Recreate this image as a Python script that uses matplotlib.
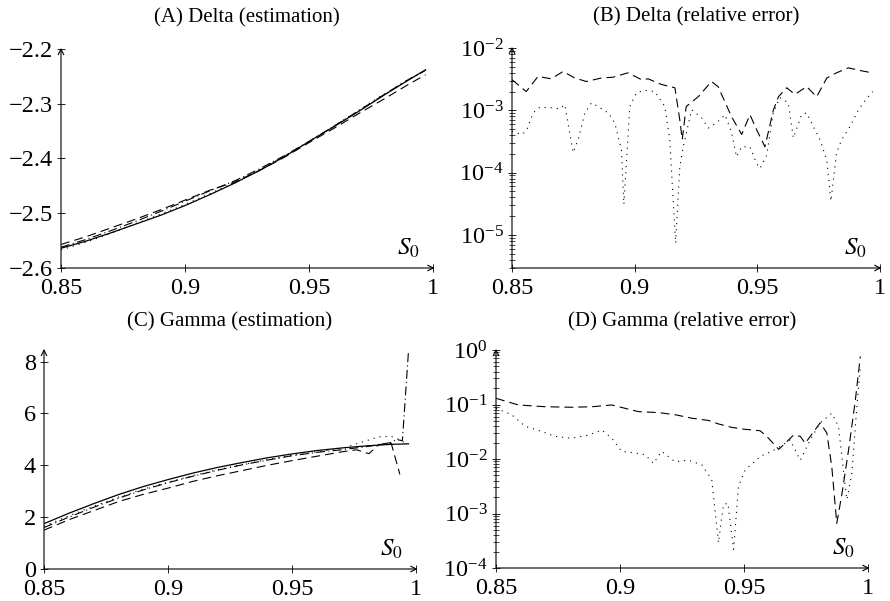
import matplotlib
matplotlib.use("Agg")
import matplotlib.pyplot as plt
from matplotlib.ticker import FixedLocator, FuncFormatter, LogLocator, NullFormatter

plt.rcParams['font.family'] = ['Liberation Serif', 'DejaVu Serif']
plt.rcParams['mathtext.fontset'] = 'stix'

# ---- (A) Delta estimation ----
xa = [0.85, 0.86, 0.87, 0.88, 0.89, 0.90, 0.91, 0.92, 0.93, 0.94,
      0.95, 0.96, 0.97, 0.98, 0.99, 0.997]
delta_exact = [-2.564, -2.551, -2.536, -2.520, -2.504, -2.486, -2.466, -2.445,
               -2.422, -2.397, -2.369, -2.342, -2.314, -2.285, -2.257, -2.238]
delta_dash = [-2.557, -2.543, -2.527, -2.511, -2.494, -2.476, -2.458, -2.443,
              -2.422, -2.398, -2.371, -2.345, -2.318, -2.292, -2.265, -2.247]
delta_dot = [-2.567, -2.553, -2.537, -2.519, -2.502, -2.484, -2.464, -2.444,
             -2.421, -2.396, -2.369, -2.341, -2.312, -2.283, -2.256, -2.240]
delta_dashdot = [-2.562, -2.548, -2.532, -2.515, -2.497, -2.478, -2.459, -2.441,
                 -2.419, -2.395, -2.369, -2.341, -2.313, -2.284, -2.256, -2.239]

# ---- (B) Delta relative error ----
xb_dash = [0.85, 0.8558, 0.8606, 0.866, 0.8708, 0.8756, 0.8803, 0.8864, 0.8912,
           0.8973, 0.9028, 0.9055, 0.9109, 0.9164, 0.9184, 0.9194, 0.921, 0.9259,
           0.9313, 0.934, 0.9395, 0.9436, 0.947, 0.9497, 0.9531, 0.9565, 0.9586,
           0.962, 0.9653, 0.9701, 0.9742, 0.9783, 0.9823, 0.9871, 0.9926, 0.9967]
errb_dash = [3.1e-3, 2.0e-3, 3.5e-3, 3.2e-3, 4.2e-3, 3.3e-3, 2.9e-3, 3.3e-3, 3.4e-3,
             4.0e-3, 3.1e-3, 3.2e-3, 2.6e-3, 2.3e-3, 7.0e-4, 3.4e-4, 1.15e-3, 1.65e-3,
             2.9e-3, 2.4e-3, 7.9e-4, 4.1e-4, 8.5e-4, 4.9e-4, 2.6e-4, 1.0e-3, 1.65e-3,
             2.3e-3, 1.8e-3, 2.4e-3, 1.65e-3, 3.3e-3, 4.0e-3, 4.8e-3, 4.3e-3, 4.0e-3]
xb_dot = [0.85, 0.8538, 0.8558, 0.8586, 0.8613, 0.866, 0.8694, 0.8715, 0.8735,
          0.8749, 0.877, 0.8797, 0.8824, 0.8851, 0.8892, 0.8919, 0.8946, 0.8956,
          0.8967, 0.898, 0.9007, 0.9041, 0.9082, 0.9123, 0.9143, 0.9167, 0.9184,
          0.9198, 0.9232, 0.9273, 0.93, 0.9334, 0.9368, 0.9395, 0.9415, 0.9436,
          0.947, 0.9497, 0.9511, 0.9538, 0.9565, 0.9592, 0.9626, 0.9647, 0.968,
          0.9701, 0.9728, 0.9755, 0.9783, 0.98, 0.9823, 0.9844, 0.9878, 0.9912,
          0.9942, 0.997]
errb_dot = [4.6e-4, 4.1e-4, 4.6e-4, 9.1e-4, 1.12e-3, 1.1e-3, 1.05e-3, 1.23e-3, 4.4e-4,
            2.1e-4, 3.4e-4, 9.1e-4, 1.32e-3, 1.15e-3, 9.1e-4, 6.3e-4, 2.3e-4, 3.1e-5,
            1.6e-4, 1.15e-3, 1.9e-3, 2.1e-3, 2.0e-3, 1.15e-3, 3.4e-4, 7.4e-6, 1.26e-4,
            2.6e-4, 1.02e-3, 7.6e-4, 5.2e-4, 6.3e-4, 8.5e-4, 4.4e-4, 1.8e-4, 2.6e-4,
            2.6e-4, 1.4e-4, 1.17e-4, 1.9e-4, 9.1e-4, 1.6e-3, 1.32e-3, 3.6e-4, 8.5e-4,
            9.1e-4, 5.5e-4, 3.4e-4, 1.6e-4, 3.5e-5, 2.1e-4, 3.4e-4, 5.5e-4, 1.02e-3,
            1.48e-3, 2.0e-3]

# ---- (C) Gamma estimation ----
xc = [0.85, 0.86, 0.87, 0.88, 0.89, 0.90, 0.91, 0.92, 0.93, 0.94,
      0.95, 0.96, 0.97, 0.98, 0.99, 0.997]
gamma_exact = [1.75, 2.15, 2.52, 2.87, 3.18, 3.45, 3.70, 3.92, 4.11, 4.29,
               4.44, 4.57, 4.67, 4.75, 4.81, 4.83]
xc_dash = [0.85, 0.86, 0.87, 0.88, 0.89, 0.90, 0.91, 0.92, 0.93, 0.94, 0.95,
           0.96, 0.97, 0.976, 0.981, 0.985, 0.99, 0.9935]
gamma_dash = [1.5, 1.9, 2.25, 2.6, 2.88, 3.12, 3.38, 3.6, 3.8, 4.0, 4.18,
              4.35, 4.52, 4.6, 4.45, 4.8, 4.85, 3.65]
xc_dot = [0.85, 0.86, 0.87, 0.88, 0.89, 0.90, 0.91, 0.92, 0.93, 0.94, 0.95,
          0.96, 0.97, 0.98, 0.985, 0.99, 0.993, 0.996]
gamma_dot = [1.65, 2.05, 2.42, 2.77, 3.08, 3.35, 3.6, 3.83, 4.03, 4.22, 4.38,
             4.52, 4.65, 4.95, 5.1, 5.12, 5.0, 4.85]
xc_dashdot = [0.85, 0.86, 0.87, 0.88, 0.89, 0.90, 0.91, 0.92, 0.93, 0.94, 0.95,
              0.96, 0.97, 0.98, 0.99, 0.992, 0.9945, 0.997]
gamma_dashdot = [1.6, 2.0, 2.38, 2.73, 3.05, 3.33, 3.58, 3.81, 4.02, 4.2, 4.37,
                 4.5, 4.6, 4.72, 4.88, 5.0, 4.95, 8.45]

# ---- (D) Gamma relative error ----
xd_dash = [0.85, 0.859, 0.8698, 0.8805, 0.8886, 0.8967, 0.9021, 0.9074, 0.9155,
           0.9222, 0.929, 0.9357, 0.9397, 0.9451, 0.9505, 0.9565, 0.9592, 0.964,
           0.9666, 0.97, 0.9727, 0.9747, 0.9807, 0.9834, 0.9854, 0.9874, 0.9895,
           0.9922, 0.9949, 0.9969]
errd_dash = [0.13, 0.098, 0.091, 0.089, 0.091, 0.098, 0.085, 0.074, 0.071,
             0.065, 0.056, 0.051, 0.044, 0.038, 0.035, 0.033, 0.026, 0.015,
             0.0195, 0.0275, 0.026, 0.0195, 0.046, 0.030, 0.0072, 6.6e-4, 2.3e-3,
             0.015, 0.12, 0.76]
xd_dot = [0.85, 0.8563, 0.8617, 0.8684, 0.8738, 0.8805, 0.8873, 0.8927, 0.8967,
          0.9007, 0.9061, 0.9101, 0.9135, 0.9168, 0.9222, 0.9276, 0.933, 0.937,
          0.9397, 0.9417, 0.9435, 0.9458, 0.9478, 0.9505, 0.9566, 0.9612, 0.9646,
          0.9686, 0.9727, 0.9767, 0.9807, 0.9854, 0.9881, 0.9902, 0.9915, 0.9935,
          0.9955, 0.9969]
errd_dot = [0.085, 0.065, 0.040, 0.032, 0.026, 0.024, 0.0275, 0.034, 0.024,
            0.0138, 0.0129, 0.012, 0.0083, 0.0138, 0.0089, 0.0095, 0.0078, 0.0042,
            2.9e-4, 1.45e-3, 1.55e-3, 2.2e-4, 3.2e-3, 6.3e-3, 0.0112, 0.0138, 0.017,
            0.0224, 0.0095, 0.0224, 0.046, 0.069, 0.040, 0.0055, 1.8e-3, 0.0055,
            0.091, 0.49]

fig = plt.figure(figsize=(8.9, 6.01), dpi=100)
ax_a = fig.add_axes([61 / 890, 333 / 601, 372 / 890, 219 / 601])
ax_b = fig.add_axes([512 / 890, 333 / 601, 368 / 890, 220 / 601])
ax_c = fig.add_axes([44 / 890, 32 / 601, 372 / 890, 219 / 601])
ax_d = fig.add_axes([496 / 890, 33 / 601, 372 / 890, 218 / 601])

solid = dict(color='k', lw=0.9, linestyle='-')
dashed = dict(color='k', lw=0.8, linestyle=(0, (8, 4.5)))
dotted = dict(color='k', lw=0.8, linestyle=(0, (1, 4.5)))
dashdot = dict(color='k', lw=0.8, linestyle=(0, (8, 3, 1, 3)))


def style(ax, title, title_pad):
    for s in ax.spines.values():
        s.set_visible(False)
    arrow = dict(arrowstyle='->', lw=0.8, color='k', shrinkA=0, shrinkB=0,
                 mutation_scale=10)
    ax.annotate('', xy=(1.004, 0), xytext=(0, 0), xycoords='axes fraction',
                arrowprops=arrow, annotation_clip=False)
    ax.annotate('', xy=(0, 1.005), xytext=(0, 0), xycoords='axes fraction',
                arrowprops=arrow, annotation_clip=False)
    ax.set_xlim(0.85, 1.0)
    ax.xaxis.set_major_locator(FixedLocator([0.85, 0.9, 0.95, 1.0]))
    ax.xaxis.set_major_formatter(FuncFormatter(lambda v, p: '%g' % round(v, 3)))
    ax.tick_params(which='major', direction='inout', length=6, width=0.6,
                   labelsize=17.5, top=False, right=False)
    ax.tick_params(axis='x', pad=4)
    ax.tick_params(axis='y', pad=3)
    ax.tick_params(which='minor', direction='inout', length=4, width=0.5)
    ax.set_title(title, fontsize=15, pad=title_pad)
    ax.text(0.965, 0.035, r'$S_0$', transform=ax.transAxes, ha='right',
            va='bottom', fontsize=18)


ax_a.plot(xa, delta_dot, **dotted)
ax_a.plot(xa, delta_dashdot, **dashdot)
ax_a.plot(xa, delta_dash, **dashed)
ax_a.plot(xa, delta_exact, **solid)
ax_a.set_ylim(-2.6, -2.2)
ax_a.yaxis.set_major_locator(FixedLocator([-2.6, -2.5, -2.4, -2.3, -2.2]))
ax_a.yaxis.set_major_formatter(FuncFormatter(lambda v, p: ('%g' % round(v, 2)).replace('-', '\u2212')))
style(ax_a, '(A) Delta (estimation)', 19)

ax_b.plot(xb_dash, errb_dash, **dashed)
ax_b.plot(xb_dot, errb_dot, **dotted)
ax_b.set_yscale('log')
ax_b.set_ylim(10 ** -5.53, 1e-2)
ax_b.yaxis.set_major_locator(FixedLocator([1e-5, 1e-4, 1e-3, 1e-2]))
ax_b.yaxis.set_minor_locator(LogLocator(base=10, subs=range(2, 10)))
ax_b.yaxis.set_minor_formatter(NullFormatter())
style(ax_b, '(B) Delta (relative error)', 19)

ax_c.plot(xc_dot, gamma_dot, **dotted)
ax_c.plot(xc_dashdot, gamma_dashdot, **dashdot)
ax_c.plot(xc_dash, gamma_dash, **dashed)
ax_c.plot(xc, gamma_exact, **solid)
ax_c.set_ylim(0, 8.45)
ax_c.yaxis.set_major_locator(FixedLocator([0, 2, 4, 6, 8]))
style(ax_c, '(C) Gamma (estimation)', 17)

ax_d.plot(xd_dash, errd_dash, **dashed)
ax_d.plot(xd_dot, errd_dot, **dotted)
ax_d.set_yscale('log')
ax_d.set_ylim(1e-4, 1e0)
ax_d.yaxis.set_major_locator(FixedLocator([1e-4, 1e-3, 1e-2, 1e-1, 1e0]))
ax_d.yaxis.set_minor_locator(LogLocator(base=10, subs=range(2, 10)))
ax_d.yaxis.set_minor_formatter(NullFormatter())
style(ax_d, '(D) Gamma (relative error)', 17)

fig.savefig('out.png', dpi=100)
